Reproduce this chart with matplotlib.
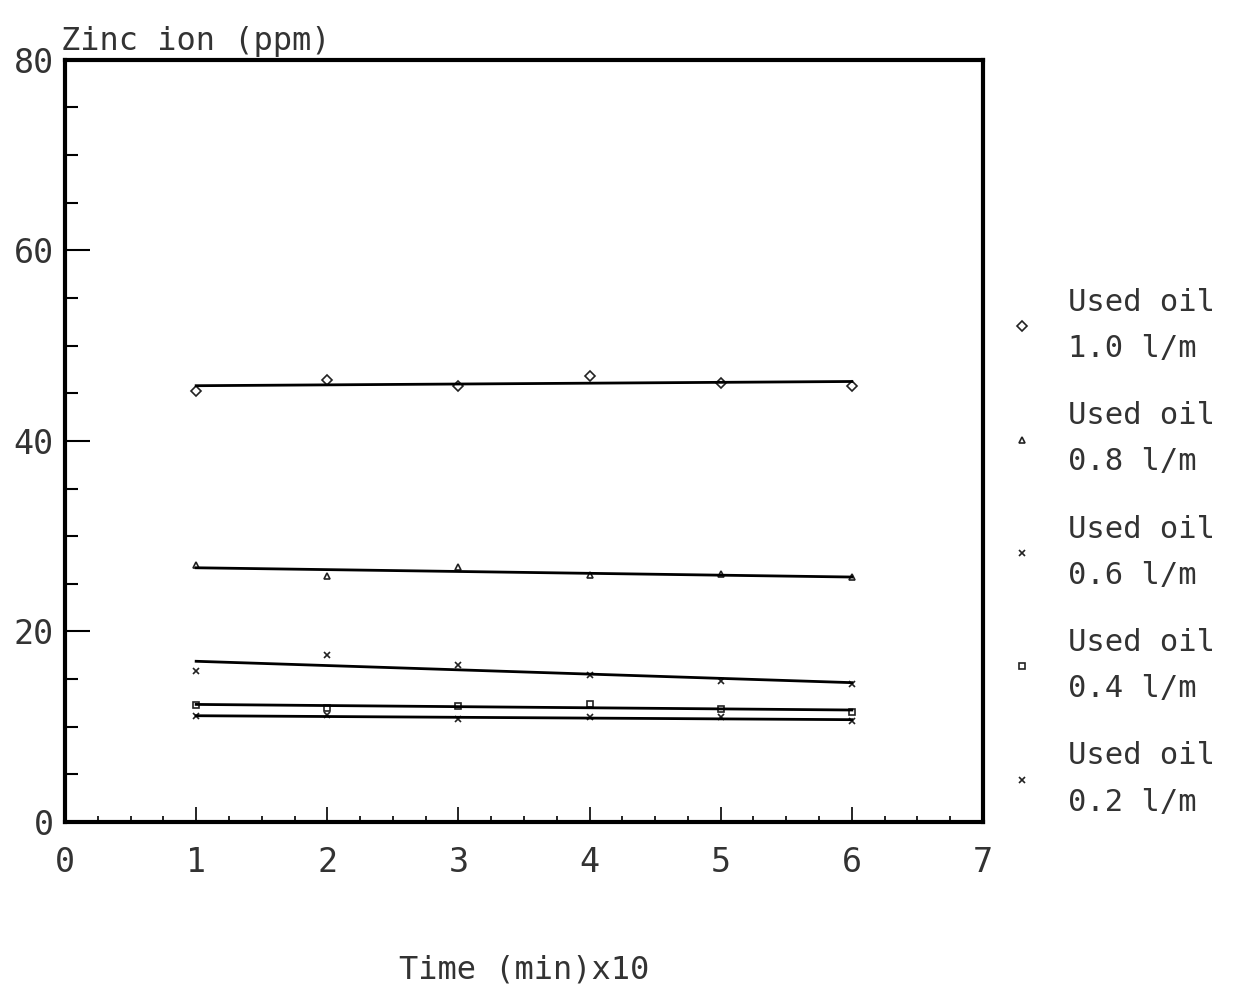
import numpy as np
import matplotlib
matplotlib.use("Agg")
import matplotlib.pyplot as plt
from matplotlib.ticker import MultipleLocator

# Zinc ion concentration (ppm) vs time (min x10) for several used-oil flow rates
time = [1, 2, 3, 4, 5, 6]
flow_labels = ["Used oil\n1.0 l/m", "Used oil\n0.8 l/m", "Used oil\n0.6 l/m",
               "Used oil\n0.4 l/m", "Used oil\n0.2 l/m"]
zinc_10 = [45.2, 46.4, 45.8, 46.8, 46.1, 45.8]
zinc_08 = [27.0, 25.8, 26.8, 25.9, 26.0, 25.7]
zinc_06 = [15.8, 17.5, 16.5, 15.4, 14.8, 14.5]
zinc_04 = [12.3, 12.0, 12.2, 12.4, 11.9, 11.5]
zinc_02 = [11.1, 11.2, 10.8, 11.0, 11.0, 10.6]
markers = ["D", "^", "x", "s", "x"]

FONT = "DejaVu Sans Mono"
TXT = "#333333"

fig = plt.figure(figsize=(12.36, 9.97), dpi=100)
ax = fig.add_axes([0.0526, 0.1755, 0.7427, 0.7645])

series = [zinc_10, zinc_08, zinc_06, zinc_04, zinc_02]
xs = np.array(time, dtype=float)
for vals, mk, lab in zip(series, markers, flow_labels):
    ax.plot(time, vals, linestyle="none", marker=mk, markersize=5,
            markerfacecolor="none", markeredgecolor="#222222",
            markeredgewidth=1.2, label=lab)
    # least-squares line through each series
    k, b = np.polyfit(xs, vals, 1)
    ax.plot([xs[0], xs[-1]], [k * xs[0] + b, k * xs[-1] + b],
            color="black", linewidth=2)

ax.set_xlim(0, 7)
ax.set_ylim(0, 80)
ax.xaxis.set_major_locator(MultipleLocator(1))
ax.xaxis.set_minor_locator(MultipleLocator(0.25))
ax.yaxis.set_major_locator(MultipleLocator(20))
ax.yaxis.set_minor_locator(MultipleLocator(5))

for sp in ax.spines.values():
    sp.set_linewidth(3)
ax.tick_params(axis="y", which="major", direction="in", length=18, width=1.5,
               pad=8, labelsize=24, labelcolor=TXT)
ax.tick_params(axis="y", which="minor", direction="in", length=9, width=1.5)
ax.tick_params(axis="x", which="major", direction="in", length=11, width=1.2,
               pad=17, labelsize=24, labelcolor=TXT)
ax.tick_params(axis="x", which="minor", direction="in", length=4, width=1.2)
for t in ax.get_xticklabels() + ax.get_yticklabels():
    t.set_family(FONT)

ax.text(-0.004, 1.004, "Zinc ion (ppm)", transform=ax.transAxes,
        ha="left", va="bottom", fontsize=23, family=FONT, color=TXT)
fig.text(0.424, 0.027, "Time (min)x10", ha="center", va="center",
         fontsize=23, family=FONT, color=TXT)

leg = ax.legend(loc="center left", bbox_to_anchor=(1.029, 0.354), frameon=False,
                prop={"family": FONT, "size": 22}, labelspacing=1.25,
                handletextpad=1.1, handlelength=0.8, borderpad=0,
                borderaxespad=0, markerscale=1.0)
for t in leg.get_texts():
    t.set_color(TXT)
    t.set_linespacing(1.75)

fig.savefig("out.png", dpi=100)
